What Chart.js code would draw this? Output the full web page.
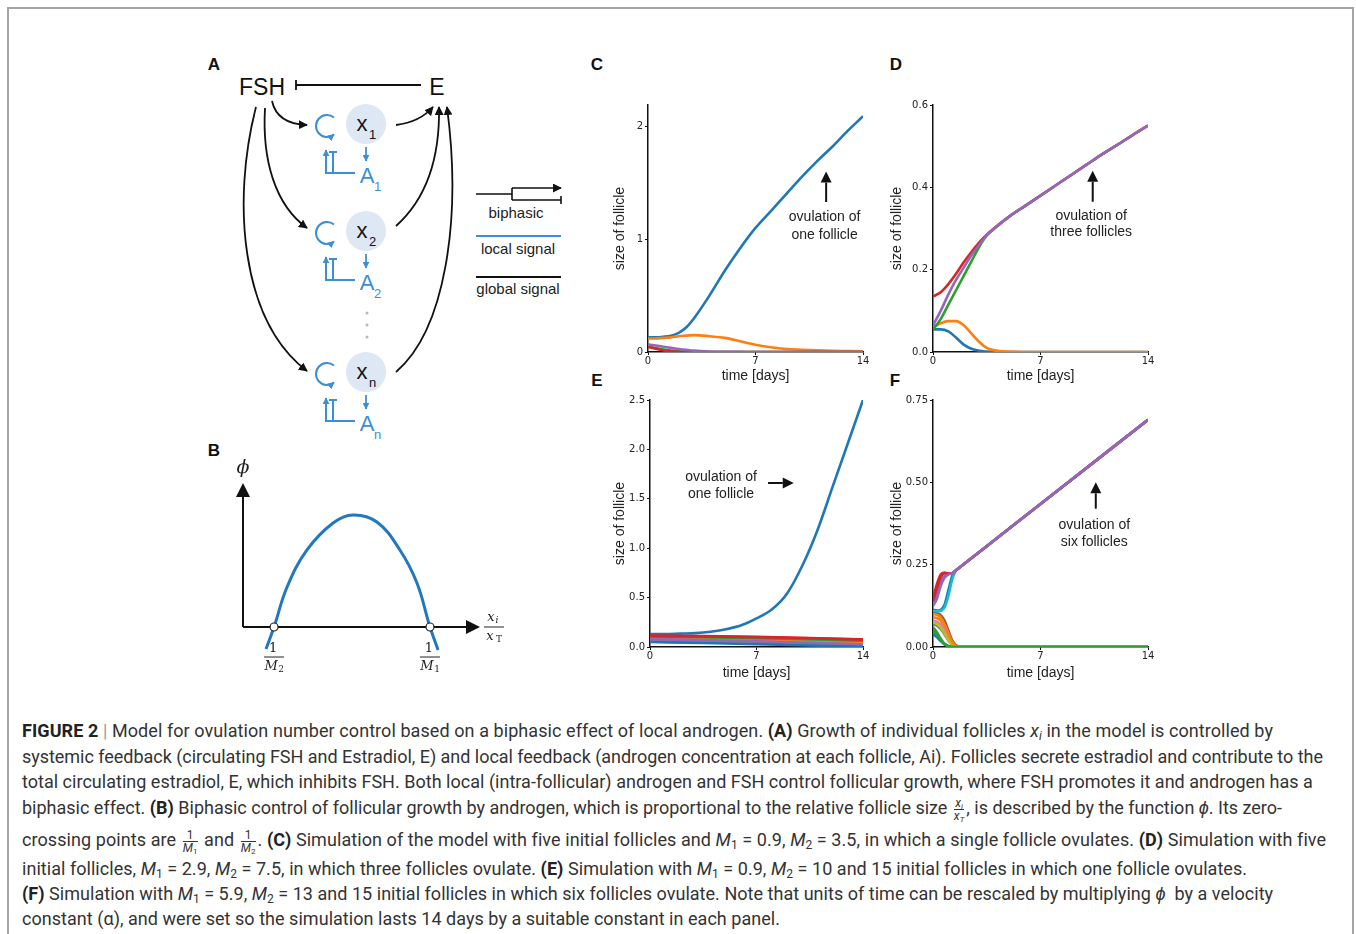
<!DOCTYPE html>
<html>
<head>
<meta charset="utf-8">
<script src="https://cdn.jsdelivr.net/npm/chart.js@4.4.0/dist/chart.umd.min.js"></script>
<style>
  body { margin: 0; background: #fff; width: 1356px; height: 934px; overflow: hidden; position: relative; font-family: "Liberation Sans", Arial, sans-serif; }
  #frame { position: absolute; left: 7px; top: 7px; width: 1343px; height: 990px; border: 2px solid #a5a5a5; }
  canvas { position: absolute; }
  .lab { position: absolute; font: bold 17px "Liberation Sans", Arial, sans-serif; color: #111; transform: translate(-50%, -50%); }
  .ln { position: absolute; left: 22px; white-space: nowrap; font: 18px Roboto, "Liberation Sans", sans-serif; line-height: 20px; color: #333; }
  .ln b { font-weight: 700; color: #222; }
  .ln sub { font-size: 12px; vertical-align: -3px; line-height: 0; }
  .bar { color: #999; }
  .fr { display: inline-flex; flex-direction: column; vertical-align: middle; font-size: 12px; line-height: 12px; text-align: center; margin: 0 2px; }
  .fr span:first-child { border-bottom: 1px solid #333; padding: 0 1px; }
  .fr sub { font-size: 8px; vertical-align: -2px; }
  svg { position: absolute; left: 0; top: 0; }
</style>
</head>
<body>
<div id="frame"></div>

<svg width="1356" height="700" font-family="Liberation Sans, Arial, sans-serif">
  <defs>
    <marker id="ak" viewBox="0 0 10 10" refX="9" refY="5" markerWidth="9" markerHeight="9" markerUnits="userSpaceOnUse" orient="auto">
      <path d="M0,0 L10,5 L0,10 z" fill="#111"/>
    </marker>
    <marker id="ab" viewBox="0 0 10 10" refX="9" refY="5" markerWidth="7" markerHeight="7" markerUnits="userSpaceOnUse" orient="auto">
      <path d="M0,0 L10,5 L0,10 z" fill="#3d8fd4"/>
    </marker>
    <g id="row">
      <circle cx="366" cy="0" r="20" fill="#dde8f4"/>
      <path d="M 334 -6.5 A 11 11 0 1 0 334 10.5" stroke="#3d8fd4" stroke-width="2" fill="none" marker-end="url(#ab)"/>
      <line x1="366" y1="23" x2="366" y2="37" stroke="#3d8fd4" stroke-width="1.8" marker-end="url(#ab)"/>
      <path d="M 355 49 H 326 V 26" stroke="#3d8fd4" stroke-width="2" fill="none" marker-end="url(#ab)"/>
      <path d="M 333 49 V 28 M 329 28 H 337" stroke="#3d8fd4" stroke-width="2" fill="none"/>
    </g>
  </defs>
  <text x="262" y="95" font-size="23" text-anchor="middle" fill="#111">FSH</text>
  <text x="437" y="95" font-size="23" text-anchor="middle" fill="#111">E</text>
  <path d="M 296 85 H 421 M 296 80 V 90" stroke="#111" stroke-width="1.8" fill="none"/>

  <use href="#row" y="124"/>
  <use href="#row" y="231"/>
  <use href="#row" y="372"/>
  <g font-size="22" fill="#111">
    <text x="362" y="131" text-anchor="middle">x</text><text x="369" y="139" font-size="13">1</text>
    <text x="362" y="238" text-anchor="middle">x</text><text x="369" y="246" font-size="13">2</text>
    <text x="362" y="379" text-anchor="middle">x</text><text x="369" y="387" font-size="13">n</text>
  </g>
  <g font-size="22" fill="#3d8fd4">
    <text x="367" y="183" text-anchor="middle">A</text><text x="374" y="191" font-size="13">1</text>
    <text x="367" y="290" text-anchor="middle">A</text><text x="374" y="298" font-size="13">2</text>
    <text x="367" y="431" text-anchor="middle">A</text><text x="374" y="439" font-size="13">n</text>
  </g>
  <g fill="#aabdd0">
    <circle cx="367" cy="313" r="1.5"/><circle cx="367" cy="325" r="1.5"/><circle cx="367" cy="337" r="1.5"/>
  </g>
  <g stroke="#111" stroke-width="1.8" fill="none" marker-end="url(#ak)">
    <path d="M 272 101 Q 277 124 307 125"/>
    <path d="M 265 108 C 262 160 275 205 307 228"/>
    <path d="M 256 107 C 232 200 240 320 307 371"/>
    <path d="M 396 125 Q 420 122 433 107"/>
    <path d="M 396 226 C 425 200 440 160 439 107"/>
    <path d="M 396 372 C 445 330 462 220 447 107"/>
  </g>

  <path d="M 476 194 H 512 M 512 188 V 200 M 512 200 H 561 M 561 196 V 204" stroke="#111" stroke-width="1.6" fill="none"/>
  <path d="M 512 188 H 561" stroke="#111" stroke-width="1.6" fill="none" marker-end="url(#ak)"/>
  <text x="516" y="218" font-size="15" text-anchor="middle" fill="#222">biphasic</text>
  <line x1="476" y1="236" x2="561" y2="236" stroke="#3d8fd4" stroke-width="2"/>
  <text x="518" y="254" font-size="15" text-anchor="middle" fill="#222">local signal</text>
  <line x1="476" y1="277" x2="561" y2="277" stroke="#111" stroke-width="2"/>
  <text x="518" y="294" font-size="15" text-anchor="middle" fill="#222">global signal</text>
</svg>

<div class="lab" style="left:214px;top:65px">A</div>
<div class="lab" style="left:214px;top:451px">B</div>
<div class="lab" style="left:597px;top:65px">C</div>
<div class="lab" style="left:896px;top:65px">D</div>
<div class="lab" style="left:597px;top:381px">E</div>
<div class="lab" style="left:895px;top:381px">F</div>

<canvas id="chartB" width="320" height="250" style="left:200px;top:440px"></canvas>
<canvas id="chartC" width="300" height="300" style="left:580px;top:95px"></canvas>
<canvas id="chartD" width="300" height="300" style="left:865px;top:95px"></canvas>
<canvas id="chartE" width="300" height="300" style="left:580px;top:390px"></canvas>
<canvas id="chartF" width="300" height="300" style="left:865px;top:390px"></canvas>

<div class="ln" data-w="1251" style="top:721px"><b>FIGURE 2</b> <span class="bar">|</span> Model for ovulation number control based on a biphasic effect of local androgen. <b>(A)</b> Growth of individual follicles <i>x<sub>i</sub></i> in the model is controlled by</div>
<div class="ln" data-w="1301" style="top:747px">systemic feedback (circulating FSH and Estradiol, E) and local feedback (androgen concentration at each follicle, Ai). Follicles secrete estradiol and contribute to the</div>
<div class="ln" data-w="1291" style="top:772px">total circulating estradiol, E, which inhibits FSH. Both local (intra-follicular) androgen and FSH control follicular growth, where FSH promotes it and androgen has a</div>
<div class="ln" data-w="1260" style="top:797px">biphasic effect. <b>(B)</b> Biphasic control of follicular growth by androgen, which is proportional to the relative follicle size <span class="fr"><span><i>x<sub>i</sub></i></span><span><i>x<sub>T</sub></i></span></span>, is described by the function <i>ϕ</i>. Its zero-</div>
<div class="ln" data-w="1303" style="top:829px">crossing points are <span class="fr"><span>1</span><span><i>M</i><sub>1</sub></span></span> and <span class="fr"><span>1</span><span><i>M</i><sub>2</sub></span></span>. <b>(C)</b> Simulation of the model with five initial follicles and <i>M</i><sub>1</sub> = 0.9, <i>M</i><sub>2</sub> = 3.5, in which a single follicle ovulates. <b>(D)</b> Simulation with five</div>
<div class="ln" data-w="1225" style="top:859px">initial follicles, <i>M</i><sub>1</sub> = 2.9, <i>M</i><sub>2</sub> = 7.5, in which three follicles ovulate. <b>(E)</b> Simulation with <i>M</i><sub>1</sub> = 0.9, <i>M</i><sub>2</sub> = 10 and 15 initial follicles in which one follicle ovulates.</div>
<div class="ln" data-w="1251" style="top:884px"><b>(F)</b> Simulation with <i>M</i><sub>1</sub> = 5.9, <i>M</i><sub>2</sub> = 13 and 15 initial follicles in which six follicles ovulate. Note that units of time can be rescaled by multiplying <i>ϕ</i>&nbsp; by a velocity</div>
<div class="ln" data-w="758" style="top:909px">constant (α), and were set so the simulation lasts 14 days by a suitable constant in each panel.</div>

<script>
//. Tick values and labels
const dayTicks = [0, 7, 14];
const dayTickLabels = ["0", "7", "14"];

//. Panel B: biphasic function phi against relative size
const ratioB = [0.097, 0.131, 0.186, 0.27, 0.38, 0.464, 0.565, 0.662, 0.734, 0.789, 0.823];
const phiB = [-0.153, 0, 0.278, 0.535, 0.722, 0.778, 0.729, 0.535, 0.306, 0, -0.16];
const crossB = [0.131, 0.789];
const crossLabelsB = ["2", "1"];

//. Panel C: five follicles, one ovulates
const daysC = [0, 0.5, 1, 1.5, 2, 2.5, 3, 4, 5, 6, 7, 8, 9, 10, 11, 12, 13, 14];
const c1 = [0.13, 0.13, 0.135, 0.145, 0.17, 0.22, 0.3, 0.5, 0.72, 0.92, 1.1, 1.25, 1.4, 1.55, 1.69, 1.82, 1.96, 2.09];
const c2 = [0.12, 0.12, 0.125, 0.13, 0.14, 0.145, 0.15, 0.14, 0.125, 0.095, 0.065, 0.042, 0.027, 0.02, 0.014, 0.01, 0.008, 0.006];
const c3 = [0.05, 0.036, 0.022, 0.012, 0.006, 0.003, 0.001, 0, 0, 0, 0, 0, 0, 0, 0, 0, 0, 0];
const c4 = [0.045, 0.028, 0.014, 0.006, 0.002, 0.001, 0, 0, 0, 0, 0, 0, 0, 0, 0, 0, 0, 0];
const c5 = [0.068, 0.058, 0.047, 0.037, 0.027, 0.019, 0.012, 0.005, 0.002, 0.001, 0, 0, 0, 0, 0, 0, 0, 0];
const yTicksC = [0, 1, 2];
const yLabelsC = ["0", "1", "2"];

//. Panel D: five follicles, three ovulate
const daysD = [0, 0.5, 1, 1.5, 2, 2.5, 3, 3.5, 4, 5, 6, 7, 8, 9, 10, 11, 12, 13, 14];
const d1 = [0.055, 0.055, 0.05, 0.035, 0.018, 0.008, 0.003, 0.001, 0, 0, 0, 0, 0, 0, 0, 0, 0, 0, 0];
const d2 = [0.06, 0.07, 0.075, 0.075, 0.065, 0.045, 0.025, 0.01, 0.004, 0.001, 0, 0, 0, 0, 0, 0, 0, 0, 0];
const d3 = [0.055, 0.08, 0.115, 0.15, 0.185, 0.22, 0.255, 0.283, 0.3, 0.33, 0.355, 0.38, 0.405, 0.43, 0.455, 0.48, 0.503, 0.527, 0.55];
const d4 = [0.135, 0.145, 0.165, 0.19, 0.218, 0.243, 0.266, 0.285, 0.301, 0.33, 0.355, 0.38, 0.405, 0.43, 0.455, 0.48, 0.503, 0.527, 0.55];
const d5 = [0.065, 0.1, 0.14, 0.175, 0.205, 0.235, 0.26, 0.284, 0.3, 0.33, 0.355, 0.38, 0.405, 0.43, 0.455, 0.48, 0.503, 0.527, 0.55];
const yTicksD = [0, 0.2, 0.4, 0.6];
const yLabelsD = ["0.0", "0.2", "0.4", "0.6"];

//. Panel E: fifteen follicles, one ovulates
const daysE = [0, 1, 2, 3, 4, 5, 6, 7, 8, 9, 10, 11, 12, 13, 14];
const e1 = [0.13, 0.13, 0.135, 0.14, 0.155, 0.18, 0.22, 0.29, 0.38, 0.54, 0.82, 1.18, 1.62, 2.06, 2.5];
const daysEband = [0, 3.5, 7, 10.5, 14];
const e2 = [0.1, 0.095, 0.088, 0.078, 0.065];
const e3 = [0.11, 0.104, 0.095, 0.083, 0.07];
const e4 = [0.115, 0.11, 0.102, 0.09, 0.077];
const e5 = [0.075, 0.065, 0.052, 0.036, 0.02];
const e6 = [0.06, 0.05, 0.037, 0.022, 0.01];
const e7 = [0.07, 0.06, 0.047, 0.032, 0.016];
const e8 = [0.065, 0.054, 0.041, 0.026, 0.012];
const e9 = [0.09, 0.083, 0.073, 0.061, 0.047];
const e10 = [0.095, 0.088, 0.078, 0.065, 0.05];
const e11 = [0.05, 0.04, 0.028, 0.015, 0.005];
const e12 = [0.085, 0.077, 0.066, 0.052, 0.037];
const e13 = [0.105, 0.099, 0.09, 0.078, 0.064];
const e14 = [0.112, 0.107, 0.099, 0.088, 0.075];
const e15 = [0.08, 0.07, 0.058, 0.043, 0.028];
const yTicksE = [0, 0.5, 1, 1.5, 2, 2.5];
const yLabelsE = ["0.0", "0.5", "1.0", "1.5", "2.0", "2.5"];

//. Panel F: fifteen follicles, six ovulate
const daysF = [0, 0.25, 0.5, 0.75, 1, 1.25, 1.5, 1.75, 2, 3, 7, 14];
const f1 = [0.113, 0.111, 0.113, 0.128, 0.172, 0.216, 0.233, 0.242, 0.251, 0.288, 0.434, 0.69];
const f2 = [0.09, 0.088, 0.08, 0.06, 0.035, 0.012, 0.003, 0, 0, 0, 0, 0];
const f3 = [0.06, 0.045, 0.025, 0.01, 0.003, 0, 0, 0, 0, 0, 0, 0];
const f4 = [0.148, 0.19, 0.22, 0.226, 0.224, 0.224, 0.233, 0.242, 0.251, 0.288, 0.434, 0.69];
const f5 = [0.132, 0.158, 0.196, 0.216, 0.222, 0.224, 0.233, 0.242, 0.251, 0.288, 0.434, 0.69];
const f6 = [0.105, 0.103, 0.097, 0.08, 0.05, 0.02, 0.005, 0.001, 0, 0, 0, 0];
const f7 = [0.08, 0.077, 0.068, 0.05, 0.028, 0.01, 0.002, 0, 0, 0, 0, 0];
const f8 = [0.07, 0.065, 0.055, 0.038, 0.02, 0.006, 0.001, 0, 0, 0, 0, 0];
const f9 = [0.075, 0.07, 0.06, 0.042, 0.022, 0.007, 0.001, 0, 0, 0, 0, 0];
const f10 = [0.11, 0.108, 0.11, 0.12, 0.155, 0.205, 0.233, 0.242, 0.251, 0.288, 0.434, 0.69];
const f11 = [0.04, 0.03, 0.018, 0.008, 0.002, 0, 0, 0, 0, 0, 0, 0];
const f12 = [0.1, 0.098, 0.09, 0.07, 0.042, 0.016, 0.004, 0.001, 0, 0, 0, 0];
const f13 = [0.05, 0.038, 0.022, 0.009, 0.002, 0, 0, 0, 0, 0, 0, 0];
const f14 = [0.14, 0.178, 0.212, 0.224, 0.223, 0.224, 0.233, 0.242, 0.251, 0.288, 0.434, 0.69];
const f15 = [0.125, 0.146, 0.185, 0.21, 0.22, 0.224, 0.233, 0.242, 0.251, 0.288, 0.434, 0.69];
const yTicksF = [0, 0.25, 0.5, 0.75];
const yLabelsF = ["0.00", "0.25", "0.50", "0.75"];

const tab10 = ["#1f77b4", "#ff7f0e", "#2ca02c", "#d62728", "#9467bd", "#8c564b", "#e377c2", "#7f7f7f", "#bcbd22", "#17becf"];
const tickFont = { family: "'DejaVu Sans', sans-serif", size: 10 };
const titleFont = { family: "'Liberation Sans', Arial, sans-serif", size: 14, lineHeight: 1.2 };

//. Annotations, placed in data units
const notes = {
  chartC: { lines: [["ovulation of", 11.5, 1.2], ["one follicle", 11.5, 1.04]], arrow: [11.6, 1.33, 11.6, 1.6] },
  chartD: { lines: [["ovulation of", 10.3, 0.33], ["three follicles", 10.3, 0.29]], arrow: [10.4, 0.365, 10.4, 0.44] },
  chartE: { lines: [["ovulation of", 4.67, 1.72], ["one follicle", 4.67, 1.55]], arrow: [7.76, 1.66, 9.45, 1.66] },
  chartF: { lines: [["ovulation of", 10.5, 0.37], ["six follicles", 10.5, 0.318]], arrow: [10.6, 0.42, 10.6, 0.5] },
};

function drawArrow(ctx, ax, ay, bx, by, head) {
  const ang = Math.atan2(by - ay, bx - ax);
  ctx.beginPath();
  ctx.moveTo(ax, ay);
  ctx.lineTo(bx - Math.cos(ang) * head, by - Math.sin(ang) * head);
  ctx.stroke();
  ctx.beginPath();
  ctx.moveTo(bx, by);
  ctx.lineTo(bx - Math.cos(ang) * head - Math.sin(ang) * head / 2, by - Math.sin(ang) * head + Math.cos(ang) * head / 2);
  ctx.lineTo(bx - Math.cos(ang) * head + Math.sin(ang) * head / 2, by - Math.sin(ang) * head - Math.cos(ang) * head / 2);
  ctx.closePath();
  ctx.fill();
}

const notePlugin = {
  id: "note",
  afterDatasetsDraw(chart) {
    const n = notes[chart.canvas.id];
    if (!n) return;
    const { ctx, scales: { x, y } } = chart;
    ctx.save();
    ctx.font = "14px 'Liberation Sans', Arial, sans-serif";
    ctx.fillStyle = "#222";
    ctx.strokeStyle = "#111";
    ctx.lineWidth = 2;
    ctx.textAlign = "center";
    ctx.textBaseline = "middle";
    n.lines.forEach(([t, vx, vy]) => ctx.fillText(t, x.getPixelForValue(vx), y.getPixelForValue(vy)));
    ctx.fillStyle = "#111";
    const [x0, y0, x1, y1] = n.arrow;
    drawArrow(ctx, x.getPixelForValue(x0), y.getPixelForValue(y0), x.getPixelForValue(x1), y.getPixelForValue(y1), 11);
    ctx.restore();
  },
};

function lineSets(rows) {
  return rows.map(([days, vals], i) => ({
    data: vals.map((v, k) => ({ x: days[k], y: v })),
    borderColor: tab10[i % 10],
    borderWidth: 2.6,
    pointRadius: 0,
    cubicInterpolationMode: "monotone",
    order: rows.length - i,
  }));
}

function panel(id, rows, yMax, yTicks, yLabels, yWidth, yTitlePad, xTitlePad) {
  return new Chart(document.getElementById(id), {
    type: "line",
    data: { datasets: lineSets(rows) },
    options: {
      responsive: false,
      animation: false,
      layout: { padding: { top: 10, right: 17, left: 0, bottom: 0 } },
      plugins: { legend: { display: false }, tooltip: { enabled: false } },
      scales: {
        x: {
          type: "linear", min: 0, max: 14,
          afterBuildTicks: (s) => { s.ticks = dayTicks.map((v) => ({ value: v })); },
          afterFit: (s) => { s.height = 43; },
          grid: { display: true, drawOnChartArea: false, drawTicks: true, tickLength: 3, color: "#111" },
          border: { display: true, color: "#111", width: 1.5 },
          ticks: { padding: 0, font: tickFont, color: "#222", maxRotation: 0, autoSkip: false, callback: (v, i) => dayTickLabels[i] },
          title: { display: true, text: "time [days]", font: titleFont, color: "#222", padding: { top: 0, bottom: xTitlePad } },
        },
        y: {
          type: "linear", min: 0, max: yMax,
          afterBuildTicks: (s) => { s.ticks = yTicks.map((v) => ({ value: v })); },
          afterFit: (s) => { s.width = yWidth; },
          grid: { display: true, drawOnChartArea: false, drawTicks: true, tickLength: 3, color: "#111" },
          border: { display: true, color: "#111", width: 1.5 },
          ticks: { padding: 2, font: tickFont, color: "#222", autoSkip: false, callback: (v, i) => yLabels[i] },
          title: { display: true, text: "size of follicle", font: titleFont, color: "#222", padding: { top: yTitlePad, bottom: 0 } },
        },
      },
    },
    plugins: [notePlugin],
  });
}

panel("chartC", [[daysC, c1], [daysC, c2], [daysC, c3], [daysC, c4], [daysC, c5]], 2.19, yTicksC, yLabelsC, 68, 31.6, 10.6);
panel("chartD", [[daysD, d1], [daysD, d2], [daysD, d3], [daysD, d4], [daysD, d5]], 0.6, yTicksD, yLabelsD, 68, 23.6, 10.6);
panel("chartE", [[daysE, e1], [daysEband, e2], [daysEband, e3], [daysEband, e4], [daysEband, e5], [daysEband, e6], [daysEband, e7],
  [daysEband, e8], [daysEband, e9], [daysEband, e10], [daysEband, e11], [daysEband, e12], [daysEband, e13], [daysEband, e14], [daysEband, e15]],
  2.5, yTicksE, yLabelsE, 70, 31.6, 8.6);
panel("chartF", [[daysF, f1], [daysF, f2], [daysF, f3], [daysF, f4], [daysF, f5], [daysF, f6], [daysF, f7], [daysF, f8],
  [daysF, f9], [daysF, f10], [daysF, f11], [daysF, f12], [daysF, f13], [daysF, f14], [daysF, f15]],
  0.75, yTicksF, yLabelsF, 68, 23.6, 8.6);

//. Panel B: axes with arrow heads and the fraction labels
const bPlugin = {
  id: "bAxes",
  beforeDatasetsDraw(chart) {
    const { ctx, scales: { x, y } } = chart;
    const ox = x.getPixelForValue(0), oy = y.getPixelForValue(0);
    const tx = x.getPixelForValue(1), ty = y.getPixelForValue(1);
    ctx.save();
    ctx.strokeStyle = "#111";
    ctx.fillStyle = "#111";
    ctx.lineWidth = 2;
    drawArrow(ctx, ox, oy, ox, ty, 14);
    drawArrow(ctx, ox, oy, tx, oy, 14);
    ctx.restore();
  },
  afterDraw(chart) {
    const { ctx, scales: { x, y } } = chart;
    const ox = x.getPixelForValue(0), oy = y.getPixelForValue(0);
    const tx = x.getPixelForValue(1), ty = y.getPixelForValue(1);
    ctx.save();
    ctx.fillStyle = "#222";
    ctx.strokeStyle = "#222";
    ctx.lineWidth = 1;
    ctx.textAlign = "center";
    ctx.textBaseline = "middle";
    ctx.font = "italic 19px 'DejaVu Serif', serif";
    ctx.fillText("ϕ", ox, ty - 15);
    const frac = (cx, cy, top, bot, sub) => {
      ctx.font = (top === "1" ? "" : "italic ") + "13px 'DejaVu Serif', serif";
      ctx.fillText(top, cx - (top === "1" ? 0 : 3), cy - 9);
      ctx.font = "italic 13px 'DejaVu Serif', serif";
      ctx.fillText(bot, cx - 4, cy + 10);
      ctx.font = "9px 'DejaVu Serif', serif";
      ctx.fillText(sub, cx + 5, cy + 13);
      if (top !== "1") { ctx.font = "italic 9px 'DejaVu Serif', serif"; ctx.fillText("i", cx + 3, cy - 6); }
      ctx.beginPath();
      ctx.moveTo(cx - 10, cy);
      ctx.lineTo(cx + 10, cy);
      ctx.stroke();
    };
    frac(tx + 14, oy, "x", "x", "T");
    crossB.forEach((c, i) => {
      const cx = x.getPixelForValue(c);
      ctx.textAlign = "center";
      ctx.font = "13px 'DejaVu Serif', serif";
      ctx.fillText("1", cx - 1, oy + 22);
      ctx.beginPath();
      ctx.moveTo(cx - 10, oy + 30);
      ctx.lineTo(cx + 10, oy + 30);
      ctx.stroke();
      ctx.font = "italic 13px 'DejaVu Serif', serif";
      ctx.fillText("M", cx - 3, oy + 40);
      ctx.font = "9px 'DejaVu Serif', serif";
      ctx.fillText(crossLabelsB[i], cx + 7, oy + 43);
    });
    ctx.restore();
  },
};

new Chart(document.getElementById("chartB"), {
  type: "line",
  data: {
    datasets: [
      {
        data: crossB.map((c) => ({ x: c, y: 0 })),
        showLine: false,
        pointRadius: 4,
        pointBackgroundColor: "#fff",
        pointBorderColor: "#222",
        pointBorderWidth: 1.2,
        order: 0,
      },
      {
        data: ratioB.map((r, k) => ({ x: r, y: phiB[k] })),
        borderColor: "#2178c0",
        borderWidth: 3,
        pointRadius: 0,
        tension: 0.4,
        order: 1,
      },
    ],
  },
  options: {
    responsive: false,
    animation: false,
    layout: { padding: { top: 43, left: 43, right: 40, bottom: 34.2 } },
    plugins: { legend: { display: false }, tooltip: { enabled: false } },
    scales: {
      x: { type: "linear", min: 0, max: 1, display: false },
      y: { type: "linear", min: -0.2, max: 1, display: false },
    },
  },
  plugins: [bPlugin],
});

//. Fit caption lines to their measured widths
document.querySelectorAll(".ln").forEach((el) => {
  const target = +el.dataset.w;
  const w = el.getBoundingClientRect().width;
  const n = el.textContent.length;
  el.style.letterSpacing = ((target - w) / n).toFixed(3) + "px";
});
</script>
</body>
</html>
